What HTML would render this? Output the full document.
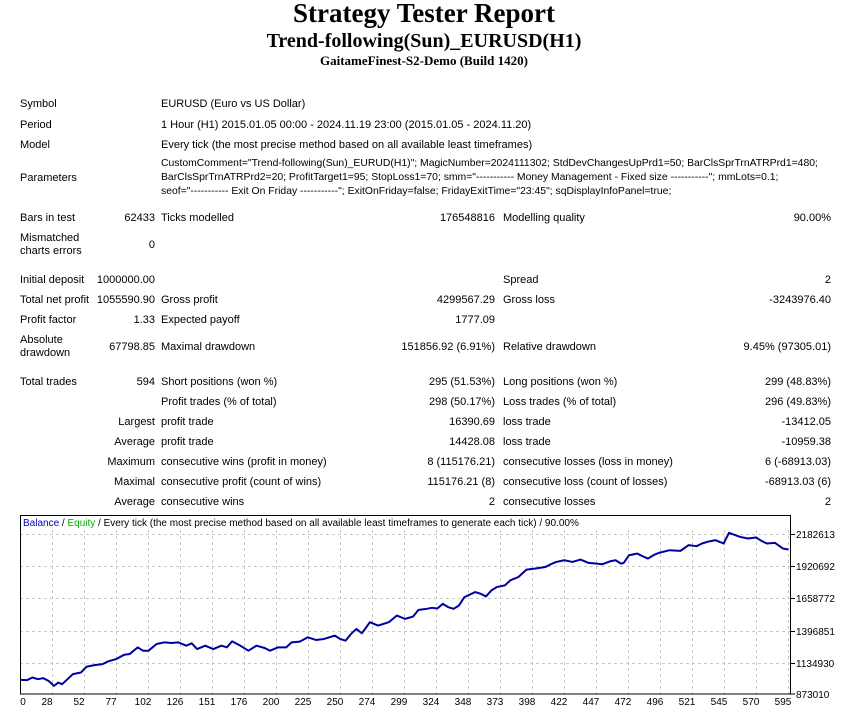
<!DOCTYPE html>
<html><head><meta charset="utf-8"><style>
body{margin:0;width:848px;height:718px;background:#fff;position:relative;overflow:hidden;font-family:"Liberation Sans",sans-serif;color:#000}
.t{position:absolute;white-space:nowrap;font-size:11px;line-height:13px}
.p{font-size:10.4px}
.r{text-align:right}
.h{position:absolute;left:0;width:848px;text-align:center;font-family:"Liberation Serif",serif;font-weight:bold;white-space:nowrap}
</style></head><body>
<div class="h" style="top:-2px;font-size:27px;line-height:30px">Strategy Tester Report</div>
<div class="h" style="top:29px;font-size:20px;line-height:24px">Trend-following(Sun)_EURUSD(H1)</div>
<div class="h" style="top:53px;font-size:13px;line-height:16px">GaitameFinest-S2-Demo (Build 1420)</div>

<div class="t" style="left:20px;top:98px">Symbol</div><div class="t" style="left:161px;top:98px">EURUSD (Euro vs US Dollar)</div>
<div class="t" style="left:20px;top:119px">Period</div><div class="t" style="left:161px;top:119px">1 Hour (H1) 2015.01.05 00:00 - 2024.11.19 23:00 (2015.01.05 - 2024.11.20)</div>
<div class="t" style="left:20px;top:139px">Model</div><div class="t" style="left:161px;top:139px">Every tick (the most precise method based on all available least timeframes)</div>
<div class="t" style="left:20px;top:172px">Parameters</div>
<div class="t p" style="left:161px;top:157px">CustomComment="Trend-following(Sun)_EURUD(H1)"; MagicNumber=2024111302; StdDevChangesUpPrd1=50; BarClsSprTrnATRPrd1=480;</div>
<div class="t p" style="left:161px;top:171px">BarClsSprTrnATRPrd2=20; ProfitTarget1=95; StopLoss1=70; smm="----------- Money Management - Fixed size -----------"; mmLots=0.1;</div>
<div class="t p" style="left:161px;top:185px">seof="----------- Exit On Friday -----------"; ExitOnFriday=false; FridayExitTime="23:45"; sqDisplayInfoPanel=true;</div>

<div class="t" style="left:20px;top:212px">Bars in test</div><div class="t r" style="right:693px;top:212px">62433</div>
<div class="t" style="left:161px;top:212px">Ticks modelled</div><div class="t r" style="right:353px;top:212px">176548816</div>
<div class="t" style="left:503px;top:212px">Modelling quality</div><div class="t r" style="right:17px;top:212px">90.00%</div>
<div class="t" style="left:20px;top:232px">Mismatched<br>charts errors</div><div class="t r" style="right:693px;top:239px">0</div>

<div class="t" style="left:20px;top:274px">Initial deposit</div><div class="t r" style="right:693px;top:274px">1000000.00</div>
<div class="t" style="left:503px;top:274px">Spread</div><div class="t r" style="right:17px;top:274px">2</div>
<div class="t" style="left:20px;top:294px">Total net profit</div><div class="t r" style="right:693px;top:294px">1055590.90</div>
<div class="t" style="left:161px;top:294px">Gross profit</div><div class="t r" style="right:353px;top:294px">4299567.29</div>
<div class="t" style="left:503px;top:294px">Gross loss</div><div class="t r" style="right:17px;top:294px">-3243976.40</div>
<div class="t" style="left:20px;top:314px">Profit factor</div><div class="t r" style="right:693px;top:314px">1.33</div>
<div class="t" style="left:161px;top:314px">Expected payoff</div><div class="t r" style="right:353px;top:314px">1777.09</div>
<div class="t" style="left:20px;top:334px">Absolute<br>drawdown</div><div class="t r" style="right:693px;top:341px">67798.85</div>
<div class="t" style="left:161px;top:341px">Maximal drawdown</div><div class="t r" style="right:353px;top:341px">151856.92 (6.91%)</div>
<div class="t" style="left:503px;top:341px">Relative drawdown</div><div class="t r" style="right:17px;top:341px">9.45% (97305.01)</div>

<div class="t" style="left:20px;top:376px">Total trades</div><div class="t r" style="right:693px;top:376px">594</div>
<div class="t" style="left:161px;top:376px">Short positions (won %)</div><div class="t r" style="right:353px;top:376px">295 (51.53%)</div>
<div class="t" style="left:503px;top:376px">Long positions (won %)</div><div class="t r" style="right:17px;top:376px">299 (48.83%)</div>
<div class="t" style="left:161px;top:396px">Profit trades (% of total)</div><div class="t r" style="right:353px;top:396px">298 (50.17%)</div>
<div class="t" style="left:503px;top:396px">Loss trades (% of total)</div><div class="t r" style="right:17px;top:396px">296 (49.83%)</div>
<div class="t r" style="right:693px;top:416px">Largest</div><div class="t" style="left:161px;top:416px">profit trade</div><div class="t r" style="right:353px;top:416px">16390.69</div>
<div class="t" style="left:503px;top:416px">loss trade</div><div class="t r" style="right:17px;top:416px">-13412.05</div>
<div class="t r" style="right:693px;top:436px">Average</div><div class="t" style="left:161px;top:436px">profit trade</div><div class="t r" style="right:353px;top:436px">14428.08</div>
<div class="t" style="left:503px;top:436px">loss trade</div><div class="t r" style="right:17px;top:436px">-10959.38</div>
<div class="t r" style="right:693px;top:456px">Maximum</div><div class="t" style="left:161px;top:456px">consecutive wins (profit in money)</div><div class="t r" style="right:353px;top:456px">8 (115176.21)</div>
<div class="t" style="left:503px;top:456px">consecutive losses (loss in money)</div><div class="t r" style="right:17px;top:456px">6 (-68913.03)</div>
<div class="t r" style="right:693px;top:476px">Maximal</div><div class="t" style="left:161px;top:476px">consecutive profit (count of wins)</div><div class="t r" style="right:353px;top:476px">115176.21 (8)</div>
<div class="t" style="left:503px;top:476px">consecutive loss (count of losses)</div><div class="t r" style="right:17px;top:476px">-68913.03 (6)</div>
<div class="t r" style="right:693px;top:496px">Average</div><div class="t" style="left:161px;top:496px">consecutive wins</div><div class="t r" style="right:353px;top:496px">2</div>
<div class="t" style="left:503px;top:496px">consecutive losses</div><div class="t r" style="right:17px;top:496px">2</div>

<svg style="position:absolute;left:0;top:0" width="848" height="718">
<g stroke="#c8c8c8" stroke-width="1" stroke-dasharray="3,3" fill="none">
<path d="M20 534.5H791M20 566.5H791M20 598.5H791M20 631.5H791M20 663.5H791"/>
<path d="M52.5 530V694M84.5 530V694M116.5 530V694M148.5 530V694M180.5 530V694M212.5 530V694M244.5 530V694M276.5 530V694M308.5 530V694M340.5 530V694M372.5 530V694M404.5 530V694M436.5 530V694M468.5 530V694M500.5 530V694M532.5 530V694M564.5 530V694M596.5 530V694M628.5 530V694M660.5 530V694M692.5 530V694M724.5 530V694M756.5 530V694M788.5 530V694"/>
</g>
<rect x="20.5" y="515.5" width="770" height="178.5" fill="none" stroke="#000"/>
<path d="M791 534.5h4M791 566.5h4M791 598.5h4M791 631.5h4M791 663.5h4M791 694h4" stroke="#000"/>
<g transform="translate(0,510) scale(0.54,0.335)">
<polyline fill="none" stroke="#0000a0" stroke-width="2" stroke-linejoin="round" vector-effect="non-scaling-stroke" points="38,507 50,508 60,500 70,505 80,502 90,510 100,525 108,515 115,520 125,505 135,490 150,485 160,468 175,463 190,460 200,452 215,445 230,432 240,430 255,410 265,420 275,420 290,400 305,395 318,397 330,395 345,405 355,398 365,415 380,405 395,415 410,405 420,410 430,392 445,405 460,420 475,405 490,412 500,420 515,410 530,410 540,395 555,393 570,380 585,388 600,385 620,375 630,385 640,390 650,370 660,355 670,368 685,335 700,345 720,335 735,315 750,325 765,318 775,298 790,295 800,292 810,294 820,280 830,290 840,295 850,285 860,260 880,245 890,250 900,258 910,240 920,230 935,225 945,210 960,200 975,178 990,175 1010,170 1020,162 1030,155 1045,150 1060,155 1075,148 1090,158 1105,160 1115,162 1130,153 1140,150 1150,160 1155,158 1165,135 1180,130 1190,138 1200,145 1210,135 1220,128 1240,120 1260,122 1275,105 1290,108 1300,100 1310,95 1325,90 1340,100 1350,68 1370,80 1385,85 1400,82 1410,92 1420,100 1435,98 1450,115 1460,118"/>
</g>
<g font-family="Liberation Sans, sans-serif" font-size="10">
<text x="23" y="526"><tspan fill="#0000c0">Balance</tspan> / <tspan fill="#00b000">Equity</tspan> / Every tick (the most precise method based on all available least timeframes to generate each tick) / 90.00%</text>
<text x="796" y="538">2182613</text><text x="796" y="570">1920692</text><text x="796" y="602">1658772</text><text x="796" y="635">1396851</text><text x="796" y="667">1134930</text><text x="796" y="698">873010</text>
<g text-anchor="middle">
<text x="23" y="705">0</text><text x="47" y="705">28</text><text x="79" y="705">52</text><text x="111" y="705">77</text><text x="143" y="705">102</text><text x="175" y="705">126</text><text x="207" y="705">151</text><text x="239" y="705">176</text><text x="271" y="705">200</text><text x="303" y="705">225</text><text x="335" y="705">250</text><text x="367" y="705">274</text><text x="399" y="705">299</text><text x="431" y="705">324</text><text x="463" y="705">348</text><text x="495" y="705">373</text><text x="527" y="705">398</text><text x="559" y="705">422</text><text x="591" y="705">447</text><text x="623" y="705">472</text><text x="655" y="705">496</text><text x="687" y="705">521</text><text x="719" y="705">545</text><text x="751" y="705">570</text><text x="783" y="705">595</text>
</g></g>
</svg>
</body></html>
